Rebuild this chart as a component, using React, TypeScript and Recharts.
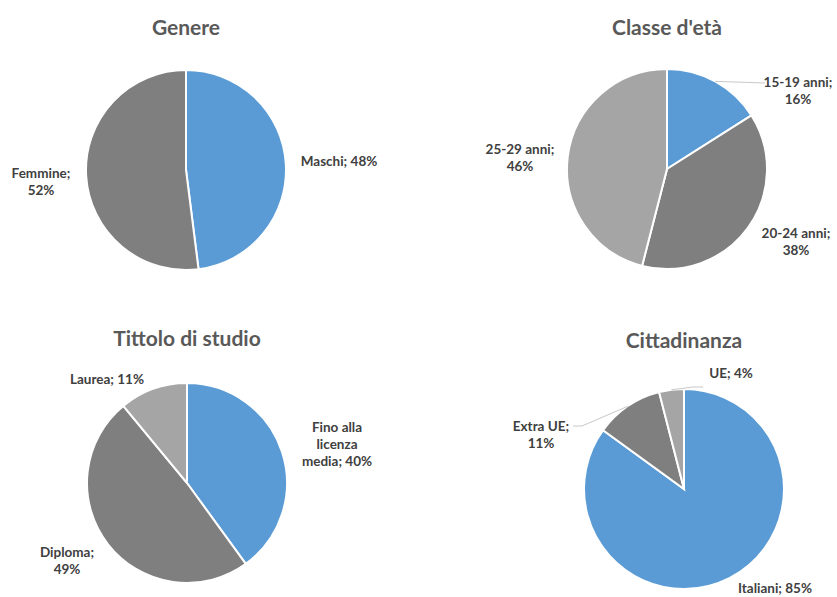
import { Cell, Pie, PieChart } from "recharts";

// --- data ---
const genereNames = ["Maschi", "Femmine"];
const genereValues = [48, 52];

const etaNames = ["15-19 anni", "20-24 anni", "25-29 anni"];
const etaValues = [16, 38, 46];

const studioNames = ["Fino alla licenza media", "Diploma", "Laurea"];
const studioValues = [40, 49, 11];

const cittadinanzaNames = ["Italiani", "Extra UE", "UE"];
const cittadinanzaValues = [85, 11, 4];

const titles = ["Genere", "Classe d'età", "Tittolo di studio", "Cittadinanza"];

// --- style ---
const W = 837;
const H = 597;
const BLUE = "#5b9bd5";
const DARK = "#7f7f7f";
const LIGHT = "#a5a5a5";
const FONT = "Lato, 'Open Sans', sans-serif";
const LABEL_COLOR = "#404040";
const TITLE_COLOR = "#595959";
const RADIUS = 100;
const LINE_H = 17;

type LabelPos = { dx: number; dy: number; wrap: number; leader?: [number, number][] };

interface PieSpec {
  title: string;
  names: string[];
  values: number[];
  colors: string[];
  cx: number;
  cy: number;
  titleY: number;
  labels: LabelPos[];
}

const pies: PieSpec[] = [
  {
    title: titles[0],
    names: genereNames,
    values: genereValues,
    colors: [BLUE, DARK],
    cx: 186,
    cy: 170,
    titleY: 27,
    labels: [
      { dx: 153, dy: -9, wrap: 30 },
      { dx: -145, dy: 11, wrap: 9 },
    ],
  },
  {
    title: titles[1],
    names: etaNames,
    values: etaValues,
    colors: [BLUE, DARK, LIGHT],
    cx: 667,
    cy: 169,
    titleY: 27,
    labels: [
      { dx: 131, dy: -79, wrap: 11, leader: [[98, -86]] },
      { dx: 129, dy: 72, wrap: 11 },
      { dx: -147, dy: -12, wrap: 11 },
    ],
  },
  {
    title: titles[2],
    names: studioNames,
    values: studioValues,
    colors: [BLUE, DARK, LIGHT],
    cx: 187,
    cy: 483,
    titleY: 338,
    labels: [
      { dx: 150, dy: -39, wrap: 10 },
      { dx: -120, dy: 77, wrap: 8 },
      { dx: -80, dy: -104, wrap: 30 },
    ],
  },
  {
    title: titles[3],
    names: cittadinanzaNames,
    values: cittadinanzaValues,
    colors: [BLUE, DARK, LIGHT],
    cx: 684,
    cy: 489,
    titleY: 340,
    labels: [
      { dx: 91, dy: 99, wrap: 30 },
      { dx: -143, dy: -55, wrap: 9, leader: [[-102, -63], [-111, -63]] },
      { dx: 47, dy: -116, wrap: 30, leader: [[9, -102], [19, -102]] },
    ],
  },
];

function wrapText(text: string, max: number): string[] {
  const words = text.split(" ");
  const lines: string[] = [];
  let cur = "";
  for (const w of words) {
    const next = cur ? cur + " " + w : w;
    if (next.length > max && cur) {
      lines.push(cur);
      cur = w;
    } else {
      cur = next;
    }
  }
  if (cur) lines.push(cur);
  return lines;
}

const RAD = Math.PI / 180;

function makeLabel(spec: PieSpec) {
  return (props: any) => {
    const { cx, cy, midAngle, outerRadius, index, name, value } = props;
    const pos = spec.labels[index];
    const lines = wrapText(`${name}; ${value}%`, pos.wrap);
    const x = cx + pos.dx;
    const y0 = cy + pos.dy - ((lines.length - 1) * LINE_H) / 2;
    let leader = null;
    if (pos.leader) {
      const ex = cx + outerRadius * Math.cos(-midAngle * RAD);
      const ey = cy + outerRadius * Math.sin(-midAngle * RAD);
      const pts = [[ex, ey], ...pos.leader.map(([a, b]) => [cx + a, cy + b])];
      leader = (
        <polyline
          points={pts.map((p) => p.join(",")).join(" ")}
          fill="none"
          stroke="#c8c8c8"
          strokeWidth={1}
        />
      );
    }
    return (
      <g key={`l-${index}`}>
        {leader}
        <text
          x={x}
          y={y0}
          textAnchor="middle"
          fill={LABEL_COLOR}
          style={{ fontFamily: FONT, fontSize: 13.5, fontWeight: 700 }}
        >
          {lines.map((l, i) => (
            <tspan key={i} x={x} y={y0 + i * LINE_H} dominantBaseline="central">
              {l}
            </tspan>
          ))}
        </text>
      </g>
    );
  };
}

export default function App() {
  return (
    <div style={{ position: "absolute", left: 0, top: 0, width: W, height: H, background: "#fff" }}>
      {pies.map((p) => (
        <div
          key={p.title}
          style={{
            position: "absolute",
            left: p.cx - 150,
            width: 300,
            top: p.titleY - 13,
            height: 26,
            lineHeight: "26px",
            textAlign: "center",
            fontFamily: FONT,
            fontWeight: 700,
            fontSize: 21,
            color: TITLE_COLOR,
          }}
        >
          {p.title}
        </div>
      ))}
      <PieChart
        width={W}
        height={H}
        margin={{ top: 0, right: 0, bottom: 0, left: 0 }}
        style={{ position: "absolute", left: 0, top: 0 }}
      >
        {pies.map((p) => (
          <Pie
            key={p.title}
            data={p.names.map((n, i) => ({ name: n, value: p.values[i] }))}
            dataKey="value"
            nameKey="name"
            cx={p.cx}
            cy={p.cy}
            outerRadius={RADIUS}
            startAngle={90}
            endAngle={-270}
            stroke="#fff"
            strokeWidth={2}
            label={makeLabel(p)}
            labelLine={false}
            isAnimationActive={false}
          >
            {p.names.map((n, i) => (
              <Cell key={n} fill={p.colors[i]} />
            ))}
          </Pie>
        ))}
      </PieChart>
    </div>
  );
}
